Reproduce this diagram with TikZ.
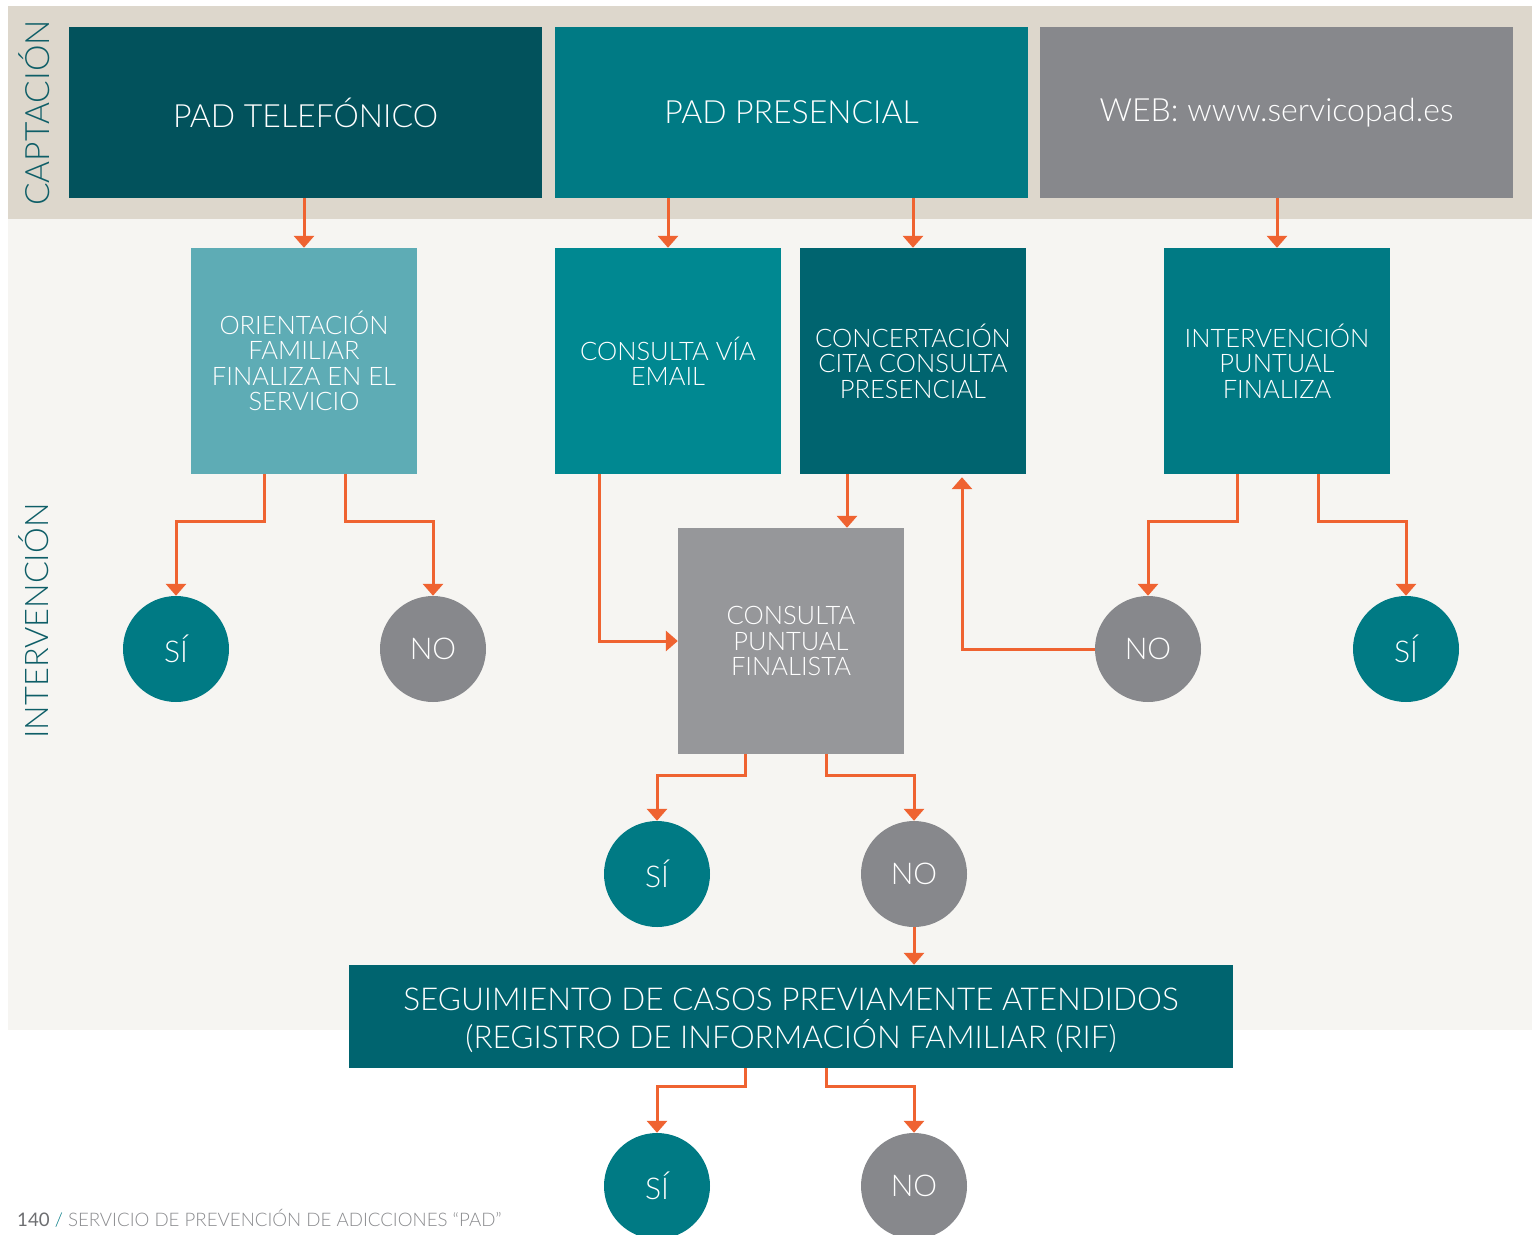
\documentclass[tikz,border=0pt]{standalone}
\usepackage{fontspec}
\setmainfont{Lato}[UprightFont={* Light}]
\newfontfamily\latoreg{Lato}
\usetikzlibrary{arrows.meta,calc}
\definecolor{beige}{HTML}{DDD7CC}
\definecolor{lightbg}{HTML}{F6F5F2}
\definecolor{darkteal}{HTML}{02525C}
\definecolor{tealA}{HTML}{007A84}
\definecolor{tealB}{HTML}{008891}
\definecolor{tealC}{HTML}{00646F}
\definecolor{lightteal}{HTML}{5EACB5}
\definecolor{greyA}{HTML}{87888C}
\definecolor{greyB}{HTML}{96979A}
\definecolor{labelcol}{HTML}{0E5E67}
\definecolor{orangeA}{HTML}{EF6331}
\definecolor{footgrey}{HTML}{8A8B8E}
\definecolor{footdark}{HTML}{6D6E71}
\tikzset{
  box/.style={rectangle, inner sep=0pt, text=white, align=center},
  topbox/.style={box, minimum width=473pt, minimum height=171pt, font=\fontsize{32}{36}\selectfont},
  midbox/.style={box, minimum width=226pt, minimum height=226pt, font=\fontsize{25.5}{25.4}\selectfont},
  answer/.style={circle, inner sep=0pt, minimum size=106pt, text=white, font=\fontsize{30}{32}\selectfont},
  yes/.style={answer, fill=tealA},
  nope/.style={answer, fill=greyA},
  arr/.style={draw=orangeA, line width=3pt, -{Triangle[width=20pt,length=12pt]}},
  sidelabel/.style={rotate=90, text=labelcol, font=\fontsize{33.5}{36}\selectfont}
}
\begin{document}
\begin{tikzpicture}[x=1pt,y=-1pt]
\useasboundingbox (0,0) rectangle (1536,1234);
\fill[white] (0,0) rectangle (1536,1234);
\fill[beige] (8,6) rectangle (1532,219);
\fill[lightbg] (8,219) rectangle (1532,1030);

\node[sidelabel] (capt) at (34,113) {CAPTACIÓN};
\node[sidelabel, font=\fontsize{32.5}{36}\selectfont] (interlab) at (34,621) {INTERVENCIÓN};

\node[topbox, fill=darkteal] (tel) at (305.5,112.5) {PAD TELEFÓNICO};
\node[topbox, fill=tealA] (pres) at (791.5,112.5) {PAD PRESENCIAL};
\node[topbox, fill=greyA] (web) at (1276.5,112.5) {WEB: www.servicopad.es};

\node[midbox, fill=lightteal] (orient) at (304,361) {ORIENTACIÓN\\FAMILIAR\\FINALIZA EN EL\\SERVICIO};
\node[midbox, fill=tealB] (email) at (668,361) {CONSULTA VÍA\\EMAIL};
\node[midbox, fill=tealC] (conc) at (913,361) {CONCERTACIÓN\\CITA CONSULTA\\PRESENCIAL};
\node[midbox, fill=tealA] (interv) at (1277,361) {INTERVENCIÓN\\PUNTUAL\\FINALIZA};
\node[midbox, fill=greyB] (punt) at (791,641) {CONSULTA\\PUNTUAL\\FINALISTA};

\node[box, fill=tealC, minimum width=884pt, minimum height=103pt] (seg) at (791,1016.5) {};
\node[box, font=\fontsize{31.5}{38}\selectfont] (segtext) at (791,1020) {SEGUIMIENTO DE CASOS PREVIAMENTE ATENDIDOS\\(REGISTRO DE INFORMACIÓN FAMILIAR (RIF)};

\node[yes] (s1) at (176,649) {SÍ};
\node[nope] (n1) at (433,649) {NO};
\node[nope] (n3) at (1148,649) {NO};
\node[yes] (s3) at (1406,649) {SÍ};
\node[yes] (s4) at (657,874) {SÍ};
\node[nope] (n4) at (914,874) {NO};
\node[yes] (s5) at (657,1186) {SÍ};
\node[nope] (n5) at (914,1186) {NO};

% captación -> intervención
\draw[arr] (tel.south -| orient.north) -- (orient.north);
\draw[arr] (pres.south -| email.north) -- (email.north);
\draw[arr] (pres.south -| conc.north) -- (conc.north);
\draw[arr] (web.south -| interv.north) -- (interv.north);

% orientación
\draw[arr] ([xshift=-40pt]orient.south) -- ++(0,47) -| (s1.north);
\draw[arr] ([xshift=41pt]orient.south) -- ++(0,47) -| (n1.north);

% email -> puntual
\draw[arr] ([xshift=-69pt]email.south) |- (punt.west);
% concertación -> puntual
\draw[arr] ([xshift=-66pt]conc.south) -- ([xshift=-66pt]conc.south |- punt.north);
% NO -> concertación
\draw[arr] (n3.west) -| ([xshift=49pt,yshift=-3pt]conc.south);

% intervención puntual
\draw[arr] ([xshift=-40pt]interv.south) -- ++(0,47) -| (n3.north);
\draw[arr] ([xshift=41pt]interv.south) -- ++(0,47) -| (s3.north);

% consulta puntual
\draw[arr] ([xshift=-46pt]punt.south) -- ++(0,21) -| (s4.north);
\draw[arr] ([xshift=35pt]punt.south) -- ++(0,21) -| (n4.north);

% NO -> seguimiento
\draw[arr] (n4.south) -- (n4.south |- seg.north);

% seguimiento
\draw[arr] ([xshift=-46pt]seg.south) -- ++(0,18) -| (s5.north);
\draw[arr] ([xshift=35pt]seg.south) -- ++(0,18) -| (n5.north);

\node[anchor=base west, inner sep=0pt, font=\fontsize{18.7}{22}\selectfont] (foot) at (17,1226) {\textcolor{footdark}{\latoreg 140} \textcolor{tealA}{/} \textcolor{footgrey}{SERVICIO DE PREVENCIÓN DE ADICCIONES “PAD”}};
\end{tikzpicture}
\end{document}
